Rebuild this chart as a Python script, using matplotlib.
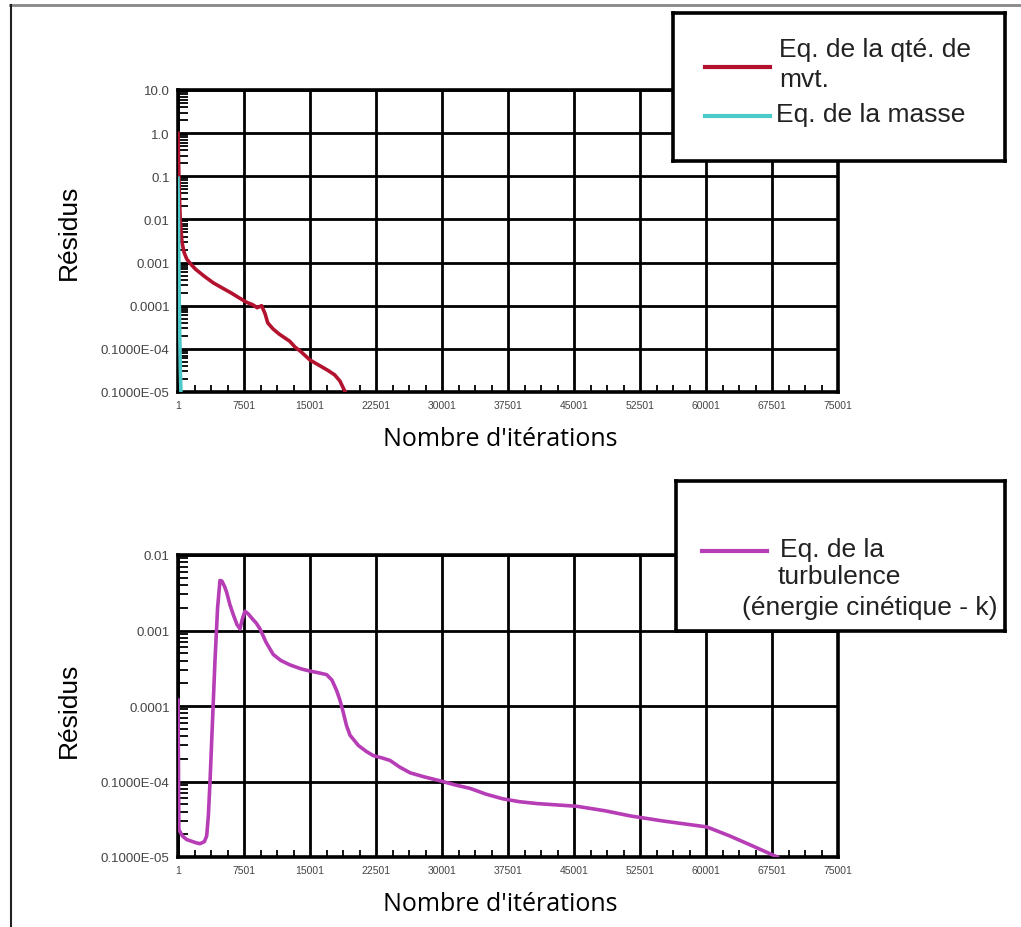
import matplotlib
matplotlib.use('Agg')
import matplotlib.pyplot as plt
from matplotlib.lines import Line2D
from matplotlib.ticker import FixedLocator, LogLocator, NullFormatter, FixedFormatter

# ---------------- data ----------------
x_ticks = [1, 7501, 15001, 22501, 30001, 37501, 45001, 52501, 60001, 67501, 75001]
x_tick_labels = [str(v) for v in x_ticks]

top_y_ticks = [1e-6, 1e-5, 1e-4, 1e-3, 1e-2, 1e-1, 1.0, 10.0]
top_y_labels = ['0.1000E-05', '0.1000E-04', '0.0001', '0.001', '0.01', '0.1', '1.0', '10.0']
bot_y_ticks = [1e-6, 1e-5, 1e-4, 1e-3, 1e-2]
bot_y_labels = ['0.1000E-05', '0.1000E-04', '0.0001', '0.001', '0.01']

# Momentum equation residuals (top)
iter_mom = [1, 100, 250, 450, 700, 1000, 1500, 2000, 3000, 4000, 5000, 6000, 7000, 7800,
            8500, 9000, 9500, 9900, 10200, 10800, 11500, 12700, 13300, 14000, 15000,
            16000, 17000, 17800, 18400, 19000]
res_mom = [1.0, 0.1, 0.01, 0.003, 0.0017, 0.0012, 0.0009, 0.0007, 0.00048, 0.00034,
           0.00026, 0.0002, 0.00015, 0.00012, 1.05e-4, 9.0e-5, 1.0e-4, 6.5e-5, 4.0e-5,
           2.9e-5, 2.2e-5, 1.5e-5, 1.1e-5, 8.5e-6, 5.5e-6, 4.2e-6, 3.2e-6, 2.5e-6,
           1.8e-6, 1.0e-6]

# Mass equation residuals (top)
iter_mass = [1, 60, 150, 260, 330]
res_mass = [0.09, 0.005, 1e-4, 4e-6, 1e-6]

# Turbulence (kinetic energy k) residuals (bottom)
iter_k = [1, 100, 500, 1000, 2000, 2500, 3000, 3260, 3450, 3640, 3900, 4200, 4500, 4770,
          5000, 5300, 5530, 5900, 6300, 6700, 7050, 7300, 7610, 8000, 8400, 8900, 9320,
          10000, 10830, 11700, 12730, 14000, 15000, 16000, 16900, 17500, 18030, 18400,
          18750, 19150, 19550, 20500, 21400, 22200, 23200, 24100, 25200, 26400, 28000,
          29800, 31500, 33200, 35000, 36900, 38800, 40800, 43000, 45300, 48500, 51400,
          55100, 58000, 60100, 62700, 65300, 68100]
res_k = [1.2e-4, 2.3e-6, 1.9e-6, 1.7e-6, 1.55e-6, 1.5e-6, 1.6e-6, 1.9e-6, 3.5e-6, 1.0e-5,
         5.5e-5, 3.9e-4, 2.0e-3, 4.6e-3, 4.5e-3, 3.8e-3, 3.2e-3, 2.2e-3, 1.6e-3, 1.2e-3,
         1.05e-3, 1.4e-3, 1.8e-3, 1.65e-3, 1.45e-3, 1.25e-3, 1.05e-3, 7.0e-4, 4.8e-4,
         4.0e-4, 3.5e-4, 3.1e-4, 2.9e-4, 2.75e-4, 2.6e-4, 2.2e-4, 1.6e-4, 1.2e-4, 8.5e-5,
         5.5e-5, 4.1e-5, 3.0e-5, 2.5e-5, 2.2e-5, 2.05e-5, 1.9e-5, 1.55e-5, 1.3e-5,
         1.15e-5, 1.02e-5, 9.0e-6, 8.1e-6, 6.8e-6, 5.9e-6, 5.4e-6, 5.1e-6, 4.9e-6, 4.7e-6,
         4.1e-6, 3.5e-6, 3.0e-6, 2.7e-6, 2.5e-6, 1.9e-6, 1.4e-6, 1.0e-6]

label_mom = 'Eq. de la qté. de\nmvt.'
label_mass = 'Eq. de la masse'
label_k_lines = ['Eq. de la', 'turbulence', '(énergie cinétique - k)']

c_mom = '#b3122e'
c_mass = '#4cc9c9'
c_k = '#b63db6'

# ---------------- layout ----------------
W, H = 1021, 928
fig = plt.figure(figsize=(W / 100, H / 100), dpi=100)
fig.patch.set_facecolor('white')

def rect(l, t, r, b):
    return [l / W, 1 - b / H, (r - l) / W, (b - t) / H]

FONT = 'Liberation Sans'

def style_axes(ax, yticks, ylabels, ylim):
    ax.set_yscale('log')
    ax.set_xlim(1, 75001)
    ax.set_ylim(*ylim)
    ax.xaxis.set_major_locator(FixedLocator(x_ticks))
    ax.xaxis.set_major_formatter(FixedFormatter(x_tick_labels))
    minors = [x_ticks[i] + k * 1875 for i in range(len(x_ticks) - 1) for k in (1, 2, 3)]
    ax.xaxis.set_minor_locator(FixedLocator(minors))
    ax.yaxis.set_major_locator(FixedLocator(yticks))
    ax.yaxis.set_major_formatter(FixedFormatter(ylabels))
    ax.yaxis.set_minor_locator(LogLocator(base=10, subs=[2, 3, 4, 5, 6, 7, 8, 9], numticks=50))
    ax.yaxis.set_minor_formatter(NullFormatter())
    ax.grid(True, which='major', color='black', linewidth=2.0)
    ax.tick_params(which='major', length=0, pad=5, colors='#444444')
    ax.tick_params(axis='x', which='major', labelsize=7.5, pad=6)
    ax.tick_params(axis='y', which='major', labelsize=9.5, pad=6)
    ax.tick_params(axis='x', which='minor', direction='in', length=5, width=1.3, top=False)
    ax.tick_params(axis='y', which='minor', direction='in', length=7, width=1.3, right=False)
    for lab in ax.get_xticklabels() + ax.get_yticklabels():
        lab.set_fontfamily(FONT)
    for s in ax.spines.values():
        s.set_linewidth(2.6)
        s.set_color('black')
    ax.set_axisbelow(True)

# Top axes
ax1 = fig.add_axes(rect(178, 91, 838, 393))
ln_mom, = ax1.plot(iter_mom, res_mom, color=c_mom, lw=2.6, zorder=3)
ln_mass, = ax1.plot(iter_mass, res_mass, color=c_mass, lw=2.6, zorder=4)
style_axes(ax1, top_y_ticks, top_y_labels, (1e-6, 10.0))

# Bottom axes
ax2 = fig.add_axes(rect(178, 556, 838, 858))
ln_k, = ax2.plot(iter_k, res_k, color=c_k, lw=2.6, zorder=3)
style_axes(ax2, bot_y_ticks, bot_y_labels, (1e-6, 1e-2))

# Axis labels
fig.text(69 / W, 1 - 232 / H, 'Résidus', rotation=90, ha='center', va='center',
         fontsize=19, family=FONT)
fig.text(69 / W, 1 - 710 / H, 'Résidus', rotation=90, ha='center', va='center',
         fontsize=19, family=FONT)
fig.text(500 / W, 1 - 440 / H, "Nombre d'itérations", ha='center', va='center',
         fontsize=18, family='Open Sans')
fig.text(500 / W, 1 - 905 / H, "Nombre d'itérations", ha='center', va='center',
         fontsize=18, family='Open Sans')

# Legend boxes
def legend_box(l, t, r, b):
    lax = fig.add_axes(rect(l, t, r, b), zorder=10)
    lax.set_facecolor('white')
    lax.set_xlim(l, r)
    lax.set_ylim(b, t)
    lax.set_xticks([])
    lax.set_yticks([])
    for s in lax.spines.values():
        s.set_linewidth(2.6)
        s.set_color('black')
    return lax

lax1 = legend_box(673, 14, 1005, 162)
lax1.add_line(Line2D([705, 770], [68, 68], color=ln_mom.get_color(), lw=3))
lax1.add_line(Line2D([705, 770], [117, 117], color=ln_mass.get_color(), lw=3))
lax1.text(779, 50, label_mom.split('\n')[0], ha='left', va='center', fontsize=19,
          family=FONT, color='#222222')
lax1.text(779, 80, label_mom.split('\n')[1], ha='left', va='center', fontsize=19,
          family=FONT, color='#222222')
lax1.text(776, 115, label_mass, ha='left', va='center', fontsize=19, family=FONT,
          color='#222222')

lax2 = legend_box(676, 482, 1005, 632)
lax2.add_line(Line2D([702, 767], [552, 552], color=ln_k.get_color(), lw=3))
lax2.text(780, 550, label_k_lines[0], ha='left', va='center', fontsize=19, family=FONT, color='#222222')
lax2.text(778, 577, label_k_lines[1], ha='left', va='center', fontsize=19, family=FONT, color='#222222')
lax2.text(742, 608, label_k_lines[2], ha='left', va='center', fontsize=19, family=FONT, color='#222222')

# Outer frame lines
fig.add_artist(Line2D([10 / W, 1.0], [1 - 6 / H, 1 - 6 / H], transform=fig.transFigure,
                      color='#888888', lw=2))
fig.add_artist(Line2D([11 / W, 11 / W], [1 - 6 / H, 0.0], transform=fig.transFigure,
                      color='#222222', lw=1.5))

fig.savefig('out.png', dpi=100)
